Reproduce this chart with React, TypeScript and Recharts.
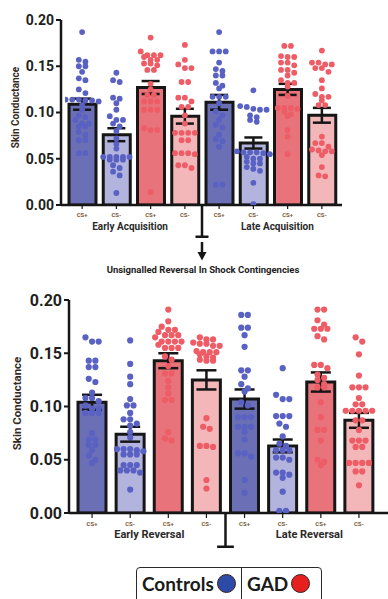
import React from 'react';
import { ComposedChart, Bar, Cell, XAxis, YAxis, Scatter, ErrorBar, ReferenceLine } from 'recharts';

// ---------- data ----------
const conditionTicks = ['CS+', 'CS-', 'CS+', 'CS-', 'CS+', 'CS-', 'CS+', 'CS-'];
const groupNames = ['Controls', 'Controls', 'GAD', 'GAD', 'Controls', 'Controls', 'GAD', 'GAD'];
const yTicks = [0, 0.05, 0.1, 0.15, 0.2];

const acqCategories = [
  'Early Acq Controls CS+', 'Early Acq Controls CS-', 'Early Acq GAD CS+', 'Early Acq GAD CS-',
  'Late Acq Controls CS+', 'Late Acq Controls CS-', 'Late Acq GAD CS+', 'Late Acq GAD CS-',
];
const acqPhaseLabels = ['Early Acquisition', 'Late Acquisition'];
const acqPhaseTicks = [1.9, 6.2];
const acqMeans = [0.109, 0.076, 0.127, 0.096, 0.111, 0.067, 0.125, 0.097];
const acqSem = [0.006, 0.007, 0.007, 0.008, 0.008, 0.006, 0.006, 0.008];

const acqEarlyCtrlCSp = [0.187, 0.157, 0.155, 0.150, 0.150, 0.144, 0.137, 0.135, 0.125, 0.121, 0.114, 0.114, 0.114, 0.113, 0.113, 0.112, 0.108, 0.103, 0.097, 0.095, 0.092, 0.088, 0.088, 0.085, 0.085, 0.079, 0.076, 0.070, 0.070, 0.056, 0.056];
const acqEarlyCtrlCSm = [0.143, 0.135, 0.133, 0.116, 0.115, 0.110, 0.103, 0.096, 0.092, 0.092, 0.088, 0.085, 0.080, 0.072, 0.066, 0.061, 0.052, 0.052, 0.052, 0.052, 0.052, 0.049, 0.049, 0.049, 0.043, 0.040, 0.036, 0.032, 0.013];
const acqEarlyGadCSp = [0.181, 0.166, 0.162, 0.162, 0.162, 0.160, 0.157, 0.157, 0.153, 0.153, 0.151, 0.146, 0.146, 0.131, 0.125, 0.119, 0.119, 0.112, 0.112, 0.112, 0.103, 0.103, 0.103, 0.083, 0.081, 0.081, 0.014];
const acqEarlyGadCSm = [0.173, 0.157, 0.152, 0.148, 0.148, 0.133, 0.133, 0.116, 0.116, 0.112, 0.106, 0.106, 0.097, 0.088, 0.078, 0.078, 0.078, 0.078, 0.070, 0.070, 0.056, 0.056, 0.056, 0.055, 0.043, 0.043, 0.040];
const acqLateCtrlCSp = [0.187, 0.166, 0.166, 0.166, 0.154, 0.147, 0.145, 0.140, 0.140, 0.132, 0.129, 0.126, 0.117, 0.117, 0.117, 0.110, 0.101, 0.097, 0.092, 0.087, 0.084, 0.076, 0.071, 0.069, 0.063, 0.022, 0.022];
const acqLateCtrlCSm = [0.124, 0.107, 0.106, 0.104, 0.103, 0.103, 0.097, 0.095, 0.092, 0.090, 0.058, 0.057, 0.057, 0.057, 0.056, 0.055, 0.052, 0.050, 0.050, 0.047, 0.045, 0.045, 0.041, 0.039, 0.037, 0.024, 0.001];
const acqLateGadCSp = [0.172, 0.172, 0.161, 0.160, 0.160, 0.154, 0.154, 0.151, 0.146, 0.146, 0.143, 0.140, 0.135, 0.132, 0.132, 0.128, 0.118, 0.105, 0.105, 0.105, 0.104, 0.101, 0.098, 0.096, 0.081, 0.074, 0.055];
const acqLateGadCSm = [0.167, 0.154, 0.154, 0.152, 0.152, 0.148, 0.148, 0.144, 0.135, 0.126, 0.120, 0.117, 0.117, 0.113, 0.108, 0.108, 0.074, 0.067, 0.067, 0.063, 0.060, 0.059, 0.058, 0.058, 0.054, 0.041, 0.032, 0.031];

const revCategories = [
  'Early Rev Controls CS+', 'Early Rev Controls CS-', 'Early Rev GAD CS+', 'Early Rev GAD CS-',
  'Late Rev Controls CS+', 'Late Rev Controls CS-', 'Late Rev GAD CS+', 'Late Rev GAD CS-',
];
const revPhaseLabels = ['Early Reversal', 'Late Reversal'];
const revPhaseTicks = [2.0, 6.2];
const revMeans = [0.104, 0.074, 0.143, 0.125, 0.107, 0.063, 0.123, 0.087];
const revSem = [0.007, 0.007, 0.007, 0.009, 0.009, 0.006, 0.009, 0.007];

const revEarlyCtrlCSp = [0.165, 0.161, 0.161, 0.143, 0.143, 0.137, 0.137, 0.126, 0.123, 0.113, 0.108, 0.108, 0.105, 0.101, 0.098, 0.098, 0.094, 0.094, 0.094, 0.075, 0.069, 0.069, 0.064, 0.064, 0.059, 0.054, 0.050, 0.047];
const revEarlyCtrlCSm = [0.162, 0.140, 0.128, 0.121, 0.107, 0.101, 0.101, 0.094, 0.088, 0.088, 0.084, 0.082, 0.076, 0.071, 0.060, 0.060, 0.060, 0.059, 0.058, 0.055, 0.055, 0.055, 0.045, 0.045, 0.045, 0.040, 0.040, 0.040, 0.038, 0.022];
const revEarlyGadCSp = [0.191, 0.180, 0.175, 0.172, 0.172, 0.170, 0.167, 0.167, 0.167, 0.165, 0.161, 0.161, 0.161, 0.161, 0.158, 0.155, 0.155, 0.155, 0.147, 0.144, 0.138, 0.131, 0.131, 0.124, 0.118, 0.112, 0.106, 0.106, 0.076, 0.070, 0.068];
const revEarlyGadCSm = [0.165, 0.163, 0.163, 0.160, 0.159, 0.159, 0.157, 0.157, 0.152, 0.151, 0.151, 0.151, 0.149, 0.147, 0.146, 0.144, 0.143, 0.143, 0.089, 0.081, 0.079, 0.063, 0.063, 0.062, 0.031, 0.023];
const revLateCtrlCSp = [0.186, 0.186, 0.174, 0.174, 0.167, 0.156, 0.134, 0.134, 0.128, 0.121, 0.117, 0.114, 0.104, 0.101, 0.090, 0.090, 0.090, 0.081, 0.081, 0.081, 0.076, 0.069, 0.056, 0.056, 0.053, 0.031, 0.019];
const revLateCtrlCSm = [0.136, 0.111, 0.107, 0.107, 0.091, 0.091, 0.091, 0.084, 0.081, 0.072, 0.065, 0.063, 0.059, 0.059, 0.059, 0.052, 0.052, 0.050, 0.038, 0.038, 0.036, 0.033, 0.020, 0.002, 0.002];
const revLateGadCSp = [0.191, 0.191, 0.181, 0.177, 0.173, 0.173, 0.173, 0.166, 0.163, 0.139, 0.139, 0.136, 0.130, 0.127, 0.125, 0.121, 0.118, 0.118, 0.104, 0.090, 0.078, 0.078, 0.068, 0.050, 0.048, 0.045];
const revLateGadCSm = [0.165, 0.161, 0.149, 0.129, 0.118, 0.118, 0.118, 0.108, 0.102, 0.102, 0.096, 0.096, 0.096, 0.096, 0.096, 0.087, 0.087, 0.078, 0.068, 0.068, 0.068, 0.062, 0.062, 0.047, 0.047, 0.047, 0.047, 0.039, 0.039, 0.026];

const acqPoints = [acqEarlyCtrlCSp, acqEarlyCtrlCSm, acqEarlyGadCSp, acqEarlyGadCSm, acqLateCtrlCSp, acqLateCtrlCSm, acqLateGadCSp, acqLateGadCSm];
const revPoints = [revEarlyCtrlCSp, revEarlyCtrlCSm, revEarlyGadCSp, revEarlyGadCSm, revLateCtrlCSp, revLateCtrlCSm, revLateGadCSp, revLateGadCSm];

const dividerPosition = 4;
const legendItems = ['Controls', 'GAD'];

// ---------- styles ----------
const BAR_FILL: Record<string, string> = { 'Controls CS+': '#6b6fb5', 'Controls CS-': '#b3b4de', 'GAD CS+': '#e8737b', 'GAD CS-': '#f3b7ba' };
const DOT_FILL: Record<string, string> = { Controls: '#5961c2', GAD: '#ee5c66' };
const LEGEND_FILL: Record<string, string> = { Controls: '#2d4aa6', GAD: '#e5201f' };
const INK = '#161616';
const FONT = 'Roboto, "DejaVu Sans", sans-serif';

// beeswarm-style horizontal spreading (layout only)
function swarm(values: number[], pxPerUnit: number, diam: number, step: number) {
  const sorted = [...values].sort((a, b) => b - a);
  const out: { v: number; dx: number }[] = [];
  let row: number[] = [];
  const flush = () => {
    row.forEach((v, j) => out.push({ v, dx: (j - (row.length - 1) / 2) * step }));
    row = [];
  };
  for (const v of sorted) {
    if (row.length) {
      const fromStart = (row[0] - v) * pxPerUnit;
      const fromLast = (row[row.length - 1] - v) * pxPerUnit;
      if (fromStart >= diam * 0.7 || (row.length >= 4 && fromLast >= diam * 0.3)) flush();
    }
    row.push(v);
  }
  flush();
  return out;
}

type PanelCfg = {
  categories: string[];
  means: number[];
  sem: number[];
  points: number[][];
  phaseLabels: string[];
  phaseTicks: number[];
  width: number;
  height: number;
  margin: { top: number; right: number; bottom: number; left: number };
  yAxisWidth: number;
  pad: { left: number; right: number };
  barSize: number;
  yFont: number;
  yLabelFont: number;
  yLabelX: number;
  yLabelShift: number;
  catTickSize: number;
  catHeight: number;
  phaseFont: number;
  phaseMargin: number;
  phaseHeight: number;
  dotR: number;
  step: number;
  capHalf: number;
  dividerDepth: number;
  capSpan: number;
};

function Panel(c: PanelCfg) {
  const plotH = c.height - c.margin.top - c.margin.bottom - c.catHeight - c.phaseHeight;
  const plotW = c.width - c.margin.left - c.margin.right - c.yAxisWidth;
  const band = (plotW - c.pad.left - c.pad.right) / c.categories.length;
  const pxPerUnit = plotH / 0.2;

  const rows = c.categories.map((key, i) => ({
    key,
    tick: conditionTicks[i],
    group: groupNames[i],
    mean: c.means[i],
  }));
  const errData = c.categories.map((_, i) => ({ x: i + 0.5, y: c.means[i], err: c.sem[i] }));

  return (
    <ComposedChart width={c.width} height={c.height} data={rows} margin={c.margin}>
      <XAxis
        xAxisId="cat"
        dataKey="key"
        type="category"
        padding={{ left: c.pad.left, right: c.pad.right }}
        interval={0}
        height={c.catHeight}
        tickSize={c.catTickSize}
        tickMargin={4}
        tickFormatter={(_v: any, i: number) => conditionTicks[i]}
        tick={{ fontSize: 6, fontWeight: 700, fill: '#7a5a38', fontFamily: FONT }}
        tickLine={{ stroke: INK, strokeWidth: 1.2 }}
        axisLine={{ stroke: INK, strokeWidth: 2.5 }}
      />
      <XAxis
        xAxisId="num"
        dataKey="x"
        type="number"
        domain={[0, 8]}
        allowDataOverflow
        padding={{ left: c.pad.left, right: c.pad.right }}
        ticks={c.phaseTicks}
        interval={0}
        height={c.phaseHeight}
        tickSize={0}
        tickMargin={c.phaseMargin}
        tickLine={false}
        axisLine={false}
        tickFormatter={(_v: any, i: number) => c.phaseLabels[i]}
        tick={{ fontSize: c.phaseFont, fontWeight: 700, fill: '#2a2a2a', fontFamily: FONT }}
      />
      <YAxis
        type="number"
        domain={[0, 0.2]}
        allowDataOverflow
        ticks={yTicks}
        interval={0}
        width={c.yAxisWidth}
        tickSize={5}
        tickMargin={2}
        tickFormatter={(v: number) => v.toFixed(2)}
        tick={{ fontSize: c.yFont, fontWeight: 700, fill: '#231f20', fontFamily: FONT }}
        tickLine={{ stroke: INK, strokeWidth: 2 }}
        axisLine={{ stroke: INK, strokeWidth: 2.5 }}
        label={{
          position: 'insideLeft',
          content: (p: any) => {
            const vb = p.viewBox || { x: 0, y: c.margin.top, height: plotH };
            const cx = vb.x + c.yLabelX;
            const cy = vb.y + vb.height / 2 + c.yLabelShift;
            return (
              <text
                x={cx}
                y={cy}
                transform={`rotate(-90 ${cx} ${cy})`}
                textAnchor="middle"
                dominantBaseline="central"
                fontSize={c.yLabelFont}
                fontWeight={700}
                fill="#35291f"
                fontFamily={FONT}
              >
                Skin Conductance
              </text>
            );
          },
        }}
      />
      <Bar xAxisId="cat" dataKey="mean" barSize={c.barSize} stroke={INK} strokeWidth={3} isAnimationActive={false}>
        {rows.map((r) => (
          <Cell key={r.key} fill={BAR_FILL[`${r.group} ${r.tick}`]} />
        ))}
      </Bar>
      {c.points.map((vals, i) => {
        const data = swarm(vals, pxPerUnit, c.dotR * 2, c.step).map((p) => ({ x: i + 0.5 + p.dx / band, y: p.v }));
        const fill = DOT_FILL[groupNames[i]];
        return (
          <Scatter
            key={c.categories[i]}
            xAxisId="num"
            dataKey="y"
            data={data}
            isAnimationActive={false}
            shape={(p: any) => <circle cx={p.cx} cy={p.cy} r={c.dotR} fill={fill} />}
          />
        );
      })}
      <Scatter xAxisId="num" dataKey="y" data={errData} isAnimationActive={false} shape={() => <g />}>
        <ErrorBar dataKey="err" direction="y" width={c.capHalf} stroke={INK} strokeWidth={2.5} />
      </Scatter>
      <ReferenceLine
        xAxisId="num"
        segment={[{ x: dividerPosition, y: 0 }, { x: dividerPosition, y: -c.dividerDepth }]}
        stroke={INK}
        strokeWidth={2.5}
        ifOverflow="visible"
      />
      <ReferenceLine
        xAxisId="num"
        segment={[{ x: dividerPosition - c.capSpan, y: -c.dividerDepth }, { x: dividerPosition + c.capSpan, y: -c.dividerDepth }]}
        stroke={INK}
        strokeWidth={2.5}
        ifOverflow="visible"
      />
    </ComposedChart>
  );
}

const topCfg: PanelCfg = {
  categories: acqCategories,
  means: acqMeans,
  sem: acqSem,
  points: acqPoints,
  phaseLabels: acqPhaseLabels,
  phaseTicks: acqPhaseTicks,
  width: 388,
  height: 245,
  margin: { top: 20, right: 46, bottom: 0, left: 0 },
  yAxisWidth: 61,
  pad: { left: 4, right: 3 },
  barSize: 27,
  yFont: 14,
  yLabelFont: 10,
  yLabelX: 15,
  yLabelShift: -5,
  catTickSize: 4,
  catHeight: 14,
  phaseFont: 10,
  phaseMargin: 3.4,
  phaseHeight: 26,
  dotR: 2.9,
  step: 6.6,
  capHalf: 9,
  dividerDepth: 0.0343,
  capSpan: 0.19,
};

const bottomCfg: PanelCfg = {
  categories: revCategories,
  means: revMeans,
  sem: revSem,
  points: revPoints,
  phaseLabels: revPhaseLabels,
  phaseTicks: revPhaseTicks,
  width: 388,
  height: 270,
  margin: { top: 20, right: 0, bottom: 0, left: 0 },
  yAxisWidth: 69,
  pad: { left: 4, right: 10 },
  barSize: 28,
  yFont: 16,
  yLabelFont: 11.5,
  yLabelX: 17,
  yLabelShift: -3,
  catTickSize: 5,
  catHeight: 14,
  phaseFont: 11,
  phaseMargin: 3,
  phaseHeight: 23,
  dotR: 3.1,
  step: 6.6,
  capHalf: 10,
  dividerDepth: 0.0317,
  capSpan: 0.22,
};

export default function App() {
  return (
    <div style={{ position: 'absolute', left: 0, top: 0, width: 388, height: 599, overflow: 'hidden', background: '#fff' }}>
      <div style={{ position: 'absolute', left: 0, top: 0 }}>
        <Panel {...topCfg} />
      </div>
      <svg style={{ position: 'absolute', left: 196, top: 240 }} width={12} height={22}>
        <line x1={6} y1={2} x2={6} y2={13} stroke={INK} strokeWidth={2.5} />
        <polygon points="1.5,12 10.5,12 6,20.5" fill={INK} />
      </svg>
      <div
        style={{
          position: 'absolute',
          left: 203,
          top: 264,
          transform: 'translateX(-50%)',
          whiteSpace: 'nowrap',
          fontFamily: FONT,
          fontWeight: 700,
          fontSize: 9.5,
          lineHeight: '12px',
          color: '#222',
        }}
      >
        Unsignalled Reversal In Shock Contingencies
      </div>
      <div style={{ position: 'absolute', left: 0, top: 280 }}>
        <Panel {...bottomCfg} />
      </div>
      <div
        style={{
          position: 'absolute',
          left: 136,
          top: 567,
          width: 186,
          height: 40,
          border: '1.5px solid #2a2a2a',
          borderRadius: 4,
          boxSizing: 'border-box',
          display: 'flex',
          fontFamily: 'Lato, "Open Sans", sans-serif',
          fontWeight: 700,
          fontSize: 19,
          color: '#1a1a1a',
        }}
      >
        {legendItems.map((name, i) => (
          <div
            key={name}
            style={{
              width: i === 0 ? 105 : 78,
              height: 31,
              display: 'flex',
              alignItems: 'center',
              paddingLeft: 5,
              boxSizing: 'border-box',
              borderRight: i === 0 ? '1.5px solid #2a2a2a' : 'none',
            }}
          >
            <span>{name}</span>
            <span
              style={{
                display: 'inline-block',
                width: 19,
                height: 19,
                borderRadius: '50%',
                marginLeft: 3,
                background: LEGEND_FILL[name],
                border: '1.5px solid #3a2020',
                boxSizing: 'border-box',
              }}
            />
          </div>
        ))}
      </div>
    </div>
  );
}
